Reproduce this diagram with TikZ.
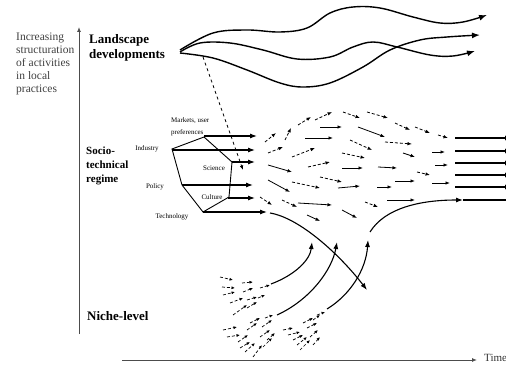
\documentclass[tikz,border=0pt]{standalone}
\usepackage{fontspec}
\setmainfont{Liberation Serif}
\usetikzlibrary{arrows.meta}
\tikzset{
  axis/.style={draw=black!70,line width=0.9pt,-{Latex[length=5pt,width=4pt]}},
  flow/.style={line width=1.1pt,-{Latex[length=7pt,width=5pt]}},
  drift/.style={line width=0.8pt,-{Latex[length=4.5pt,width=3.5pt]}},
  seed/.style={drift,densely dashed,line width=0.7pt,-{Latex[length=3.5pt,width=3pt]}},
  waves/.style={line width=1.4pt,-{Latex[length=8pt,width=6pt]}},
  levelname/.style={font=\bfseries,align=left,anchor=west,inner sep=0pt},
  facet/.style={font=\fontsize{7}{8}\selectfont,inner sep=0pt}
}
\begin{document}
\begin{tikzpicture}[x=1pt,y=-1pt]
    \useasboundingbox (0,0) rectangle (506,366);
    % axes
    \draw[axis] (79,334) -- (79,27);
    \draw[axis] (122,360) -- (477,360);
    \node (time) [anchor=west,inner sep=0pt,text=black!80,font=\fontsize{11}{12}\selectfont] at (484,358) {Time};
    \node (yname) [anchor=west,inner sep=0pt,align=left,text=black!75,
        font=\fontsize{11.5}{13}\selectfont] at (16,64) {Increasing\\structuration\\of activities\\in local\\practices};
    % level names
    \node (landscape) [levelname,font=\fontsize{13}{15}\bfseries] at (89,48) {Landscape\\developments};
    \node (regime) [levelname,font=\fontsize{11}{14}\bfseries] at (86,166) {Socio-\\technical\\regime};
    \node (niche) [levelname,font=\fontsize{13}{15}\bfseries] at (87,316) {Niche-level};
    % landscape
    \draw[waves] plot[smooth,tension=0.6] coordinates {(180,50) (213,33) (247,30) (280,32) (307,28) (330,13) (353,7) (380,8) (413,17) (440,23) (463,22) (487,15)};
    \draw[waves] plot[smooth,tension=0.6] coordinates {(180,52) (200,43) (230,43) (263,50) (297,59) (330,57) (353,47) (373,42) (397,47) (430,55) (453,56) (475,51)};
    \draw[waves] plot[smooth,tension=0.6] coordinates {(180,53) (213,58) (247,70) (280,83) (303,87) (330,83) (363,67) (390,50) (420,40) (447,37) (480,35)};
    \draw[drift,dashed] (203,57) -- (243,170);
    % regime
    \draw[line width=0.9pt] (172,149) -- (204,137) -- (232,162) -- (229,197) -- (203,212) -- (182,185) -- cycle;
    \node (markets) [facet,anchor=west,align=left,font=\fontsize{7}{12}\selectfont] at (171,127) {Markets, user\\preferences};
    \node (industry) [facet] at (147,149) {Industry};
    \node (science) [facet] at (214,168) {Science};
    \node (policy) [facet] at (155,187) {Policy};
    \node (culture) [facet] at (212,197) {Culture};
    \node (technology) [facet] at (172,217) {Technology};
    \draw[flow] (204,136) -- (257,136);
    \draw[flow] (172,150) -- (255,150);
    \draw[flow] (232,162) -- (255,162);
    \draw[flow] (182,185) -- (253,185);
    \draw[flow] (228,198) -- (255,198);
    \draw[flow] (203,212) -- (267,212);
    % unstable middle
    \foreach \xa/\ya/\xb/\yb in {320/127/342/127, 358/127/385/137, 305/138/333/138,
        403/153/415/157, 432/152/445/152, 268/165/292/172, 342/168/363/168,
        378/167/397/168, 435/165/448/165, 268/180/290/192, 338/188/360/186,
        377/187/392/187, 395/181/415/181, 432/183/450/183, 298/203/332/205,
        387/200/415/200, 307/215/320/221, 342/210/357/218}
        \draw[drift] (\xa,\ya) -- (\xb,\yb);
    \foreach \xa/\ya/\xb/\yb in {265/142/276/133, 285/140/291/128, 298/125/311/117,
        315/120/332/112, 343/112/360/118, 367/112/388/118, 395/123/410/130,
        415/127/430/133, 438/135/448/138, 350/140/372/150, 385/142/412/144,
        268/153/283/147, 292/157/315/148, 342/153/365/158, 308/167/330/162,
        417/172/430/175, 320/177/342/182, 292/182/320/188, 260/197/272/205,
        282/200/297/207, 365/202/378/207}
        \draw[drift,densely dashed] (\xa,\ya) -- (\xb,\yb);
    % new regime
    \foreach \y in {138,151,163,175,187}
        \draw[flow] (455,\y) -- (512,\y);
    \draw[flow] (370,232) .. controls (385,208) and (420,200) .. (463,200);
    \draw[line width=1.1pt] (463,200) -- (506,200);
    \draw[flow] (270,213) .. controls (300,218) and (340,255) .. (367,290);
    % niches
    \foreach \xa/\ya/\xb/\yb in {220/277/233/280, 222/287/235/288, 223/295/235/292,
        242/283/253/282, 243/292/253/288, 260/288/270/285, 230/303/243/298,
        247/300/257/297, 258/298/265/295, 233/315/247/305, 247/308/257/302,
        223/330/237/327, 227/337/240/335, 238/342/248/335, 240/348/250/342,
        245/352/255/343, 247/330/257/323, 250/323/260/318, 260/337/270/330,
        262/327/272/320, 265/318/273/315, 253/357/262/345, 263/347/272/338,
        267/340/275/333,
        283/330/293/328, 288/335/300/332, 293/340/303/335, 297/345/307/337,
        300/350/310/340, 303/323/313/318, 307/328/317/323, 310/337/318/330,
        313/320/320/315, 317/315/325/312, 313/345/320/337}
        \draw[seed] (\xa,\ya) -- (\xb,\yb);
    \draw[flow] (271,284) .. controls (295,275) and (310,260) .. (312,242);
    \draw[flow] (277,315) .. controls (310,300) and (332,270) .. (337,242);
    \draw[flow] (327,309) .. controls (350,295) and (366,270) .. (368,240);
\end{tikzpicture}
\end{document}
